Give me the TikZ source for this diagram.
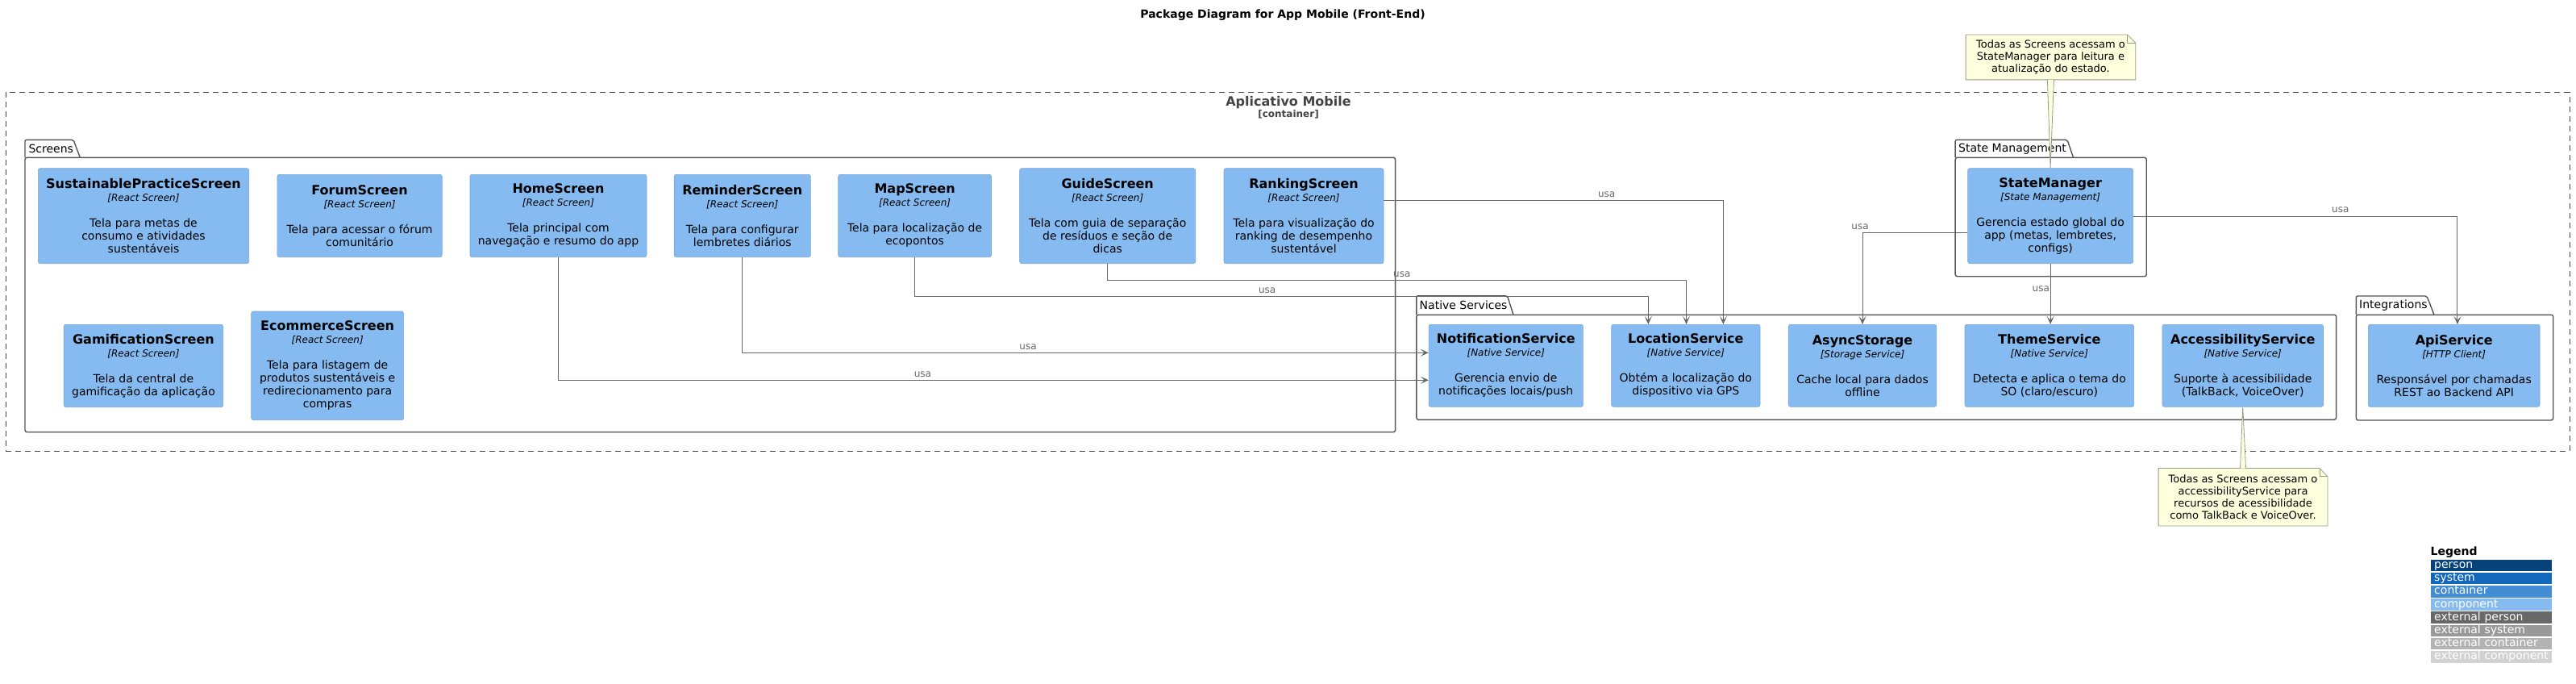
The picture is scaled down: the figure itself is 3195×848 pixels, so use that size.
\documentclass[tikz,border=0pt]{standalone}
\usepackage{fontspec}
\setmainfont{DejaVu Sans}
\usetikzlibrary{arrows.meta}
\pgfdeclarelayer{background}
\pgfsetlayers{background,main}
\definecolor{compfill}{HTML}{85BBF0}
\definecolor{compdraw}{HTML}{78A8D8}
\definecolor{pkgdraw}{HTML}{555555}
\definecolor{conncol}{HTML}{666666}
\definecolor{bnddraw}{HTML}{444444}
\definecolor{notefill}{HTML}{FEFFDD}
\definecolor{notedraw}{HTML}{999988}
\definecolor{lgA}{HTML}{08427B}
\definecolor{lgB}{HTML}{1168BD}
\definecolor{lgC}{HTML}{438DD5}
\definecolor{lgD}{HTML}{85BBF0}
\definecolor{lgE}{HTML}{686868}
\definecolor{lgF}{HTML}{999999}
\definecolor{lgG}{HTML}{B3B3B3}
\definecolor{lgH}{HTML}{D2D2D2}
\newcommand\ctitle{\fontsize{16}{19}\selectfont\bfseries}
\newcommand\cstereo{\fontsize{12}{14}\selectfont\itshape}
\newcommand\mkcomp[8]{%
  \node[comp, minimum width={(#4-#2)*1pt}, minimum height={(#5-#3)*1pt}]
    (#1) at ({(#2+#4)/2},{(#3+#5)/2}) {{\ctitle #6}\\{\cstereo [#7]}\\[16pt]#8};}
\newcommand\mkpkg[8]{%
  % name, x1, y1, x2, y2, tabtop, tabright top, tabright bottom ; label separate
  \node[pkgbody, minimum width={(#4-#2)*1pt}, minimum height={(#5-#3)*1pt}]
    (#1) at ({(#2+#4)/2},{(#3+#5)/2}) {};
  \draw[pkgline] (#2,#3) -- (#2,#6) -- (#7,#6) -- (#8,#3);}
\begin{document}
\begin{tikzpicture}[x=1pt,y=-1pt,
  comp/.style={draw=compdraw, line width=0.6pt, fill=compfill, rounded corners=2.5pt,
    inner sep=0pt, align=center, font=\fontsize{14}{16}\selectfont, text=black},
  pkgbody/.style={draw=pkgdraw, line width=1.4pt, rounded corners=2.5pt, inner sep=0pt},
  pkgline/.style={draw=pkgdraw, line width=1.4pt, rounded corners=2pt},
  pkglbl/.style={anchor=west, inner sep=0pt, font=\fontsize{14}{16}\selectfont, text=black},
  conn/.style={draw=conncol, line width=1pt, -{Stealth[length=10pt,width=9pt,inset=5pt]}},
  lbl/.style={inner sep=0pt, font=\fontsize{12}{14}\selectfont, text=conncol},
  notetext/.style={inner sep=0pt, align=center, font=\fontsize{13}{15.2}\selectfont, text=black},
  notebox/.style={draw=notedraw, fill=notefill, line width=0.8pt},
  legrow/.style={inner xsep=4.5pt, inner ysep=0pt, minimum height=14.6pt, text width=141.5pt,
    align=left, text height=10.2pt, text depth=3pt, font=\fontsize{14}{16}\selectfont, text=white, anchor=north west}
]
\useasboundingbox (0,0) rectangle (3195,848);

% title
\node[font=\fontsize{14}{16}\selectfont\bfseries, inner sep=0pt] (title) at (1591,19) {Package Diagram for App Mobile (Front-End)};

% container boundary
\node[draw=bnddraw, line width=1pt, dash pattern=on 7pt off 5pt, inner sep=0pt,
  minimum width=3179.7pt, minimum height=444.7pt] (app) at (1597.15,336.65) {};
\node[font=\fontsize{16}{19}\selectfont\bfseries, text=bnddraw, inner sep=0pt] (apptitle) at (1598,127) {Aplicativo Mobile};
\node[font=\fontsize{12}{14}\selectfont\bfseries, text=bnddraw, inner sep=0pt] (appsub) at (1598,142) {[container]};

% packages
\mkpkg{pkgScreens}{31}{195.3}{1730.6}{535.7}{173.3}{91}{99.3}
\node[pkglbl] (lblScreens) at (35.3,184.5) {Screens};
\mkpkg{pkgNative}{1756.8}{390.3}{2897.6}{520.3}{366.7}{1869.5}{1877}
\node[pkglbl] (lblNative) at (1760.5,378.5) {Native Services};
\mkpkg{pkgState}{2425.1}{195.3}{2662.2}{342.7}{173.3}{2564}{2571.5}
\node[pkglbl] (lblState) at (2429,184.5) {State Management};
\mkpkg{pkgInt}{2922.3}{390.3}{3166.7}{521}{367}{3010}{3019}
\node[pkglbl] (lblInt) at (2926,378.5) {Integrations};

% screens
\mkcomp{sps}{47.3}{208.7}{308.7}{326.7}{SustainablePracticeScreen}{React Screen}{Tela para metas de\\consumo e atividades\\sustentáveis}
\mkcomp{forum}{343.9}{216.3}{548.2}{318.7}{ForumScreen}{React Screen}{Tela para acessar o fórum\\comunitário}
\mkcomp{home}{583}{216.3}{802}{318.7}{HomeScreen}{React Screen}{Tela principal com\\navegação e resumo do app}
\mkcomp{rem}{836.2}{216.3}{1005.3}{318.7}{ReminderScreen}{React Screen}{Tela para configurar\\lembretes diários}
\mkcomp{map}{1039.7}{216.3}{1229.5}{318.7}{MapScreen}{React Screen}{Tela para localização de\\ecopontos}
\mkcomp{guide}{1264.7}{208.7}{1482.7}{326.7}{GuideScreen}{React Screen}{Tela com guia de separação\\de resíduos e seção de\\dicas}
\mkcomp{rank}{1518}{208.7}{1716}{326.7}{RankingScreen}{React Screen}{Tela para visualização do\\ranking de desempenho\\sustentável}
\mkcomp{gam}{79.2}{402.3}{276.7}{504.7}{GamificationScreen}{React Screen}{Tela da central de\\gamificação da aplicação}
\mkcomp{ecom}{311.7}{386}{500.6}{520.7}{EcommerceScreen}{React Screen}{Tela para listagem de\\produtos sustentáveis e\\redirecionamento para\\compras}

% state
\mkcomp{sm}{2440.6}{208.7}{2645.6}{326.7}{StateManager}{State Management}{Gerencia estado global do\\app (metas, lembretes,\\configs)}

% native services
\mkcomp{notif}{1772.1}{402.3}{1963.4}{504.3}{NotificationService}{Native Service}{Gerencia envio de\\notificações locais/push}
\mkcomp{loc}{1998.6}{402.3}{2183}{504.3}{LocationService}{Native Service}{Obtém a localização do\\dispositivo via GPS}
\mkcomp{async}{2218.2}{402.3}{2401.8}{504.3}{AsyncStorage}{Storage Service}{Cache local para dados\\offline}
\mkcomp{theme}{2437}{402.3}{2646.6}{504.3}{ThemeService}{Native Service}{Detecta e aplica o tema do\\SO (claro/escuro)}
\mkcomp{access}{2681.9}{402.3}{2881.5}{504.3}{AccessibilityService}{Native Service}{Suporte à acessibilidade\\(TalkBack, VoiceOver)}

% integrations
\mkcomp{api}{2937.3}{402.3}{3150}{504.3}{ApiService}{HTTP Client}{Responsável por chamadas\\REST ao Backend API}

% connectors
\draw[conn] ([yshift=19.2pt]rank.east) -| ([xshift=46.6pt]loc.north);
\node[lbl] (u1) at (1992.6,241.3) {usa};
\draw[conn] (guide.south) -- ++(0,20.6) -| ([xshift=0.7pt]loc.north);
\node[lbl] (u2) at (1738.8,340) {usa};
\draw[conn] (map.south) -- ++(0,48.6) -| ([xshift=-46.5pt]loc.north);
\node[lbl] (u3) at (1571.7,360) {usa};
\draw[conn] ([yshift=-20.8pt]sm.west) -| (async.north);
\node[lbl] (u4) at (2307,281) {usa};
\draw[conn] (sm.south) -- (sm.south |- theme.north);
\node[lbl] (u5) at (2531.3,358.3) {usa};
\draw[conn] ([yshift=-0.8pt]sm.east) -| ([xshift=4.3pt]api.north);
\node[lbl] (u6) at (2902.8,260.7) {usa};
\draw[conn] (rem.south) |- ([yshift=16pt]notif.west);
\node[lbl] (u7) at (1275,430.7) {usa};
\draw[conn] (home.south) |- ([yshift=-18pt]notif.west);
\node[lbl] (u8) at (1144.4,464.7) {usa};

% notes
\node[notetext, minimum width=210.2pt, minimum height=55.4pt] (n1) at (2543.4,71) {Todas as Screens acessam o\\StateManager para leitura e\\atualização do estado.};
\node[notetext, minimum width=209.4pt, minimum height=71pt] (n2) at (2782,616.2) {Todas as Screens acessam o\\accessibilityService para\\recursos de acessibilidade\\como TalkBack e VoiceOver.};
\begin{pgfonlayer}{background}
\draw[notebox] (n1.south west) -- (n1.north west) -- ([xshift=-10pt]n1.north east) -- ([yshift=-10pt]n1.north east) -- (n1.south east) -- cycle;
\draw[notebox, fill=none] ([xshift=-10pt]n1.north east) |- ([yshift=-10pt]n1.north east);
\draw[notebox] (n2.south west) -- (n2.north west) -- ([xshift=-10pt]n2.north east) -- ([yshift=-10pt]n2.north east) -- (n2.south east) -- cycle;
\draw[notebox, fill=none] ([xshift=-10pt]n2.north east) |- ([yshift=-10pt]n2.north east);
\end{pgfonlayer}
\draw[notebox] ([xshift=-4pt]n1.south) -- (sm.north) -- ([xshift=4pt]n1.south);
\draw[notebox] ([xshift=-3.5pt]n2.north) -- (access.south) -- ([xshift=3.5pt]n2.north);

% legend
\node[anchor=west, inner sep=0pt, font=\fontsize{14}{16}\selectfont\bfseries] (legtitle) at (3014.5,684.5) {Legend};
\node[legrow, fill=lgA] (lg1) at (3014.5,693.3) {person};
\node[legrow, fill=lgB] (lg2) at (3014.5,709.5) {system};
\node[legrow, fill=lgC] (lg3) at (3014.5,725.7) {container};
\node[legrow, fill=lgD] (lg4) at (3014.5,741.9) {component};
\node[legrow, fill=lgE] (lg5) at (3014.5,758.1) {external person};
\node[legrow, fill=lgF] (lg6) at (3014.5,774.3) {external system};
\node[legrow, fill=lgG] (lg7) at (3014.5,790.5) {external container};
\node[legrow, fill=lgH] (lg8) at (3014.5,806.7) {external component};
\end{tikzpicture}
\end{document}
